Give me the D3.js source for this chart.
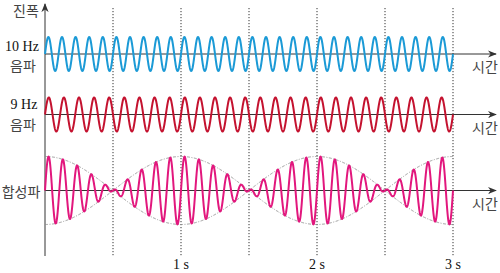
<!DOCTYPE html>
<html><head><meta charset="utf-8">
<script src="https://cdn.jsdelivr.net/npm/d3@7"></script>
<style>
html,body{margin:0;padding:0;background:#fff;}
svg{display:block;}
</style></head>
<body>
<script>
// ---- data ----
const waveNames = ["10 Hz", "9 Hz"];
const waveFreqs = [10, 9];          // Hz
const waveAmps = [1, 1];            // relative amplitude
const waveColors = ["#1b9ad6", "#c4122f"];
const sumColor = "#e2177d";
const timeTicks = [1, 2, 3];        // labelled seconds
const guideTimes = [0.5, 1, 1.5, 2, 2.5, 3];
const timeDomain = [0, 3];

const W = 500, H = 273;
const svg = d3.select("body").append("svg").attr("width", W).attr("height", H);

const x = d3.scaleLinear().domain(timeDomain).range([45, 453]);
const panelCenters = [54, 114.5, 190.5];
const ampPx = 17;
const yScale = c => d3.scaleLinear().domain([-1, 1]).range([c + ampPx, c - ampPx]);
const ys = panelCenters.map(yScale);

const defs = svg.append("defs");
defs.append("marker").attr("id", "arr").attr("viewBox", "0 0 10 10")
  .attr("refX", 9).attr("refY", 5).attr("markerWidth", 9).attr("markerHeight", 9)
  .attr("markerUnits", "userSpaceOnUse").attr("orient", "auto")
  .append("path").attr("d", "M0,1 L10,5 L0,9 L3,5 Z").attr("fill", "#333");

// vertical guide lines
svg.append("g").selectAll("line").data(guideTimes).join("line")
  .attr("x1", d => x(d)).attr("x2", d => x(d)).attr("y1", 8).attr("y2", 257)
  .attr("stroke", "#333").attr("stroke-width", 1).attr("stroke-dasharray", "1.2,1.8");

// sample times
const N = 2400;
const ts = d3.range(N + 1).map(i => timeDomain[0] + (timeDomain[1] - timeDomain[0]) * i / N);
const wave = (k, t) => waveAmps[k] * Math.sin(2 * Math.PI * waveFreqs[k] * t);

// horizontal axes
panelCenters.forEach(c => {
  svg.append("line").attr("x1", 45).attr("x2", 496).attr("y1", c).attr("y2", c)
    .attr("stroke", "#333").attr("stroke-width", 1).attr("marker-end", "url(#arr)");
});
// vertical axis
svg.append("line").attr("x1", 45).attr("x2", 45).attr("y1", 256).attr("y2", 4)
  .attr("stroke", "#333").attr("stroke-width", 1).attr("marker-end", "url(#arr)");

// envelope
const ySum = d3.scaleLinear().domain([-2, 2]).range([panelCenters[2] + 2 * ampPx, panelCenters[2] - 2 * ampPx]);
const df = Math.abs(waveFreqs[0] - waveFreqs[1]);
const env = t => (waveAmps[0] + waveAmps[1]) * Math.abs(Math.cos(Math.PI * df * t));
[1, -1].forEach(s => {
  svg.append("path").datum(ts)
    .attr("d", d3.line().x(t => x(t)).y(t => ySum(s * env(t))))
    .attr("fill", "none").attr("stroke", "#8a8a8a").attr("stroke-width", 0.9)
    .attr("stroke-dasharray", "3,1.5,1,1.5");
});

// component waves
[0, 1].forEach(k => {
  svg.append("path").datum(ts)
    .attr("d", d3.line().x(t => x(t)).y(t => ys[k](wave(k, t))))
    .attr("fill", "none").attr("stroke", waveColors[k]).attr("stroke-width", 2);
});
// sum wave
svg.append("path").datum(ts)
  .attr("d", d3.line().x(t => x(t)).y(t => ySum(wave(0, t) + wave(1, t))))
  .attr("fill", "none").attr("stroke", sumColor).attr("stroke-width", 2);

// labels
const kor = "'Noto Sans CJK KR', 'Noto Sans', sans-serif";
const ser = "'Liberation Serif', 'DejaVu Serif', serif";
const txt = (s, xx, yy, font, size, anchor, fill) =>
  svg.append("text").attr("x", xx).attr("y", yy).attr("font-family", font)
    .attr("font-size", size).attr("text-anchor", anchor).attr("fill", fill).text(s);

txt("진폭", 26, 16, kor, 14, "middle", "#444");
txt(waveNames[0], 22, 51, ser, 14, "middle", "#111");
txt("음파", 23, 71, kor, 14, "middle", "#444");
txt(waveNames[1], 24, 109, ser, 14, "middle", "#111");
txt("음파", 23, 130, kor, 14, "middle", "#444");
txt("합성파", 21, 197, kor, 14, "middle", "#444");
panelCenters.forEach(c => txt("시간", 485, c + 18, kor, 14, "middle", "#444"));

svg.append("g").selectAll("text").data(timeTicks).join("text")
  .attr("x", d => x(d)).attr("y", 269).attr("text-anchor", "middle")
  .attr("font-family", ser).attr("font-size", 14).attr("fill", "#111")
  .text(d => d + " s");
</script>
</body></html>
